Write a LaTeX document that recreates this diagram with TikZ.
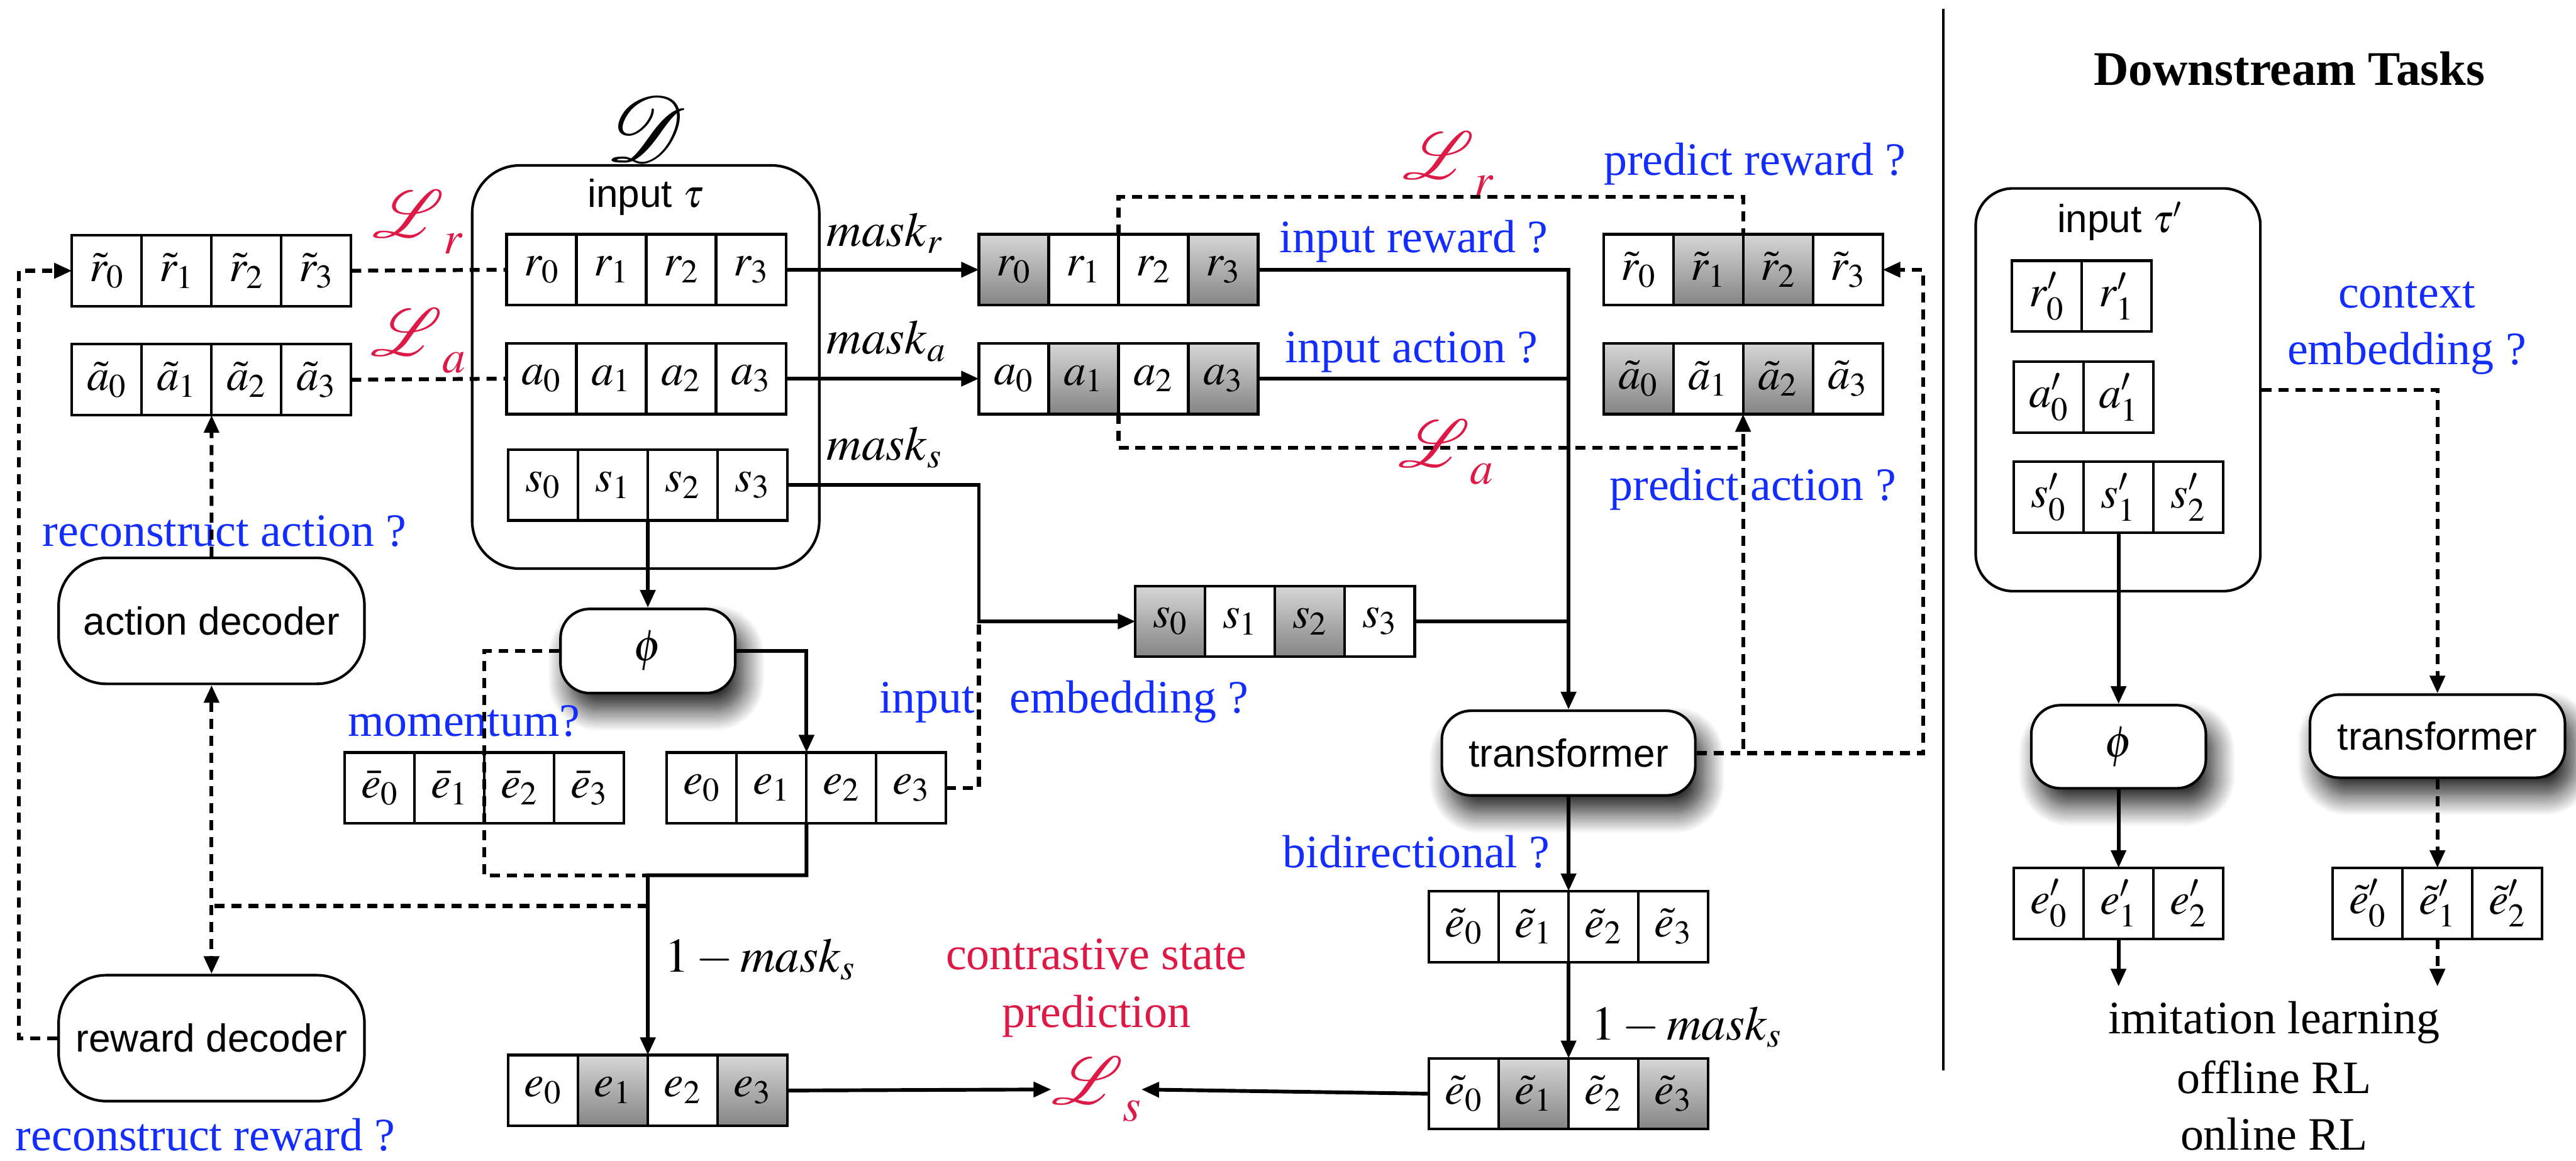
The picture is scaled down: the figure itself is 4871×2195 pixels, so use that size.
\documentclass[tikz,border=0pt]{standalone}
\usepackage{graphicx}
\usepackage{mathptmx}
\usepackage{mathrsfs}
\usepackage{fontspec}
\setmainfont{Liberation Serif}
\setsansfont{Liberation Sans}
\usetikzlibrary{arrows.meta,positioning,shadows.blur}

\definecolor{askblue}{RGB}{20,45,255}
\definecolor{lossred}{RGB}{222,25,70}

\newcommand{\cellfnt}{\fontsize{24}{28}\selectfont}
\newcommand{\boxfnt}{\sffamily\fontsize{21}{25}\selectfont}
\newcommand{\askfnt}{\fontsize{25}{30}\selectfont}
\newcommand{\lossfnt}{\fontsize{24.88}{30}\selectfont}
\newcommand{\maskfnt}{\fontsize{26}{30}\selectfont}
% big script L with a lowered index
\newcommand{\lossmark}[1]{\scalebox{1.45}{$\mathscr{L}$}\raisebox{-9pt}{$#1$}}

\begin{document}
\begin{tikzpicture}[
    x=0.01cm, y=-0.01cm,
    >={Triangle[length=9.5pt,width=8pt]},
    cell/.style={
        draw,
        line width=1.4pt,
        fill=white,
        minimum width=1.32cm,
        minimum height=1.34cm,
        inner sep=0pt,
        outer sep=0pt,
        font=\cellfnt
    },
    gcell/.style={cell, top color=black!16, bottom color=black!48},
    roundbox/.style={
        draw,
        line width=1.4pt,
        fill=white,
        rounded corners=0.55cm,
        font=\boxfnt
    },
    sroundbox/.style={
        roundbox,
        blur shadow={shadow xshift=0.16cm, shadow yshift=-0.32cm,
                     shadow blur radius=0.4cm, shadow blur steps=24,
                     shadow opacity=90}
    },
    wire/.style={line width=2pt},
    flow/.style={wire, ->},
    dflow/.style={line width=2.1pt, dash pattern=on 5.4pt off 3.7pt},
    ask/.style={text=askblue, font=\askfnt, inner sep=0pt},
    loss/.style={text=lossred, font=\lossfnt, inner sep=0pt},
    maskl/.style={font=\maskfnt, inner sep=0pt}
]
    \useasboundingbox (0,0) rectangle (4871,2195);

    % ---------------- pretraining ----------------
    \node[roundbox, minimum width=6.56cm, minimum height=7.62cm, rounded corners=0.9cm] (inbox) at (1221,694) {};
    \node[font=\boxfnt, anchor=base] (intitle) at (1221,392) {input $\tau$};
    \node[font=\lossfnt, inner sep=0pt] (dset) at (1222,244) {\scalebox{2}{$\mathscr{D}$}};

    \foreach \i in {0,...,3} {
        \node[cell] (r\i) at ({1024+132*\i},510) {$r_{\i}$};
        \node[cell] (a\i) at ({1024+132*\i},716) {$a_{\i}$};
        \node[cell] (s\i) at ({1027+132*\i},917) {$s_{\i}$};
        \node[cell] (rr\i) at ({202+132*\i},512) {$\tilde{r}_{\i}$};
        \node[cell] (ra\i) at ({202+132*\i},718) {$\tilde{a}_{\i}$};
        \node[cell] (eb\i) at ({718+132*\i},1490) {$\bar{e}_{\i}$};
        \node[cell] (e\i) at ({1327+132*\i},1490) {$e_{\i}$};
        \node[cell] (te\i) at ({2768+132*\i},1752) {$\tilde{e}_{\i}$};
    }
    \foreach \i/\st in {0/gcell,1/cell,2/cell,3/gcell}
        \node[\st] (mr\i) at ({1917+132*\i},510) {$r_{\i}$};
    \foreach \i/\st in {0/cell,1/gcell,2/cell,3/gcell} {
        \node[\st] (ma\i) at ({1917+132*\i},716) {$a_{\i}$};
        \node[\st] (me\i) at ({1027+132*\i},2062) {$e_{\i}$};
        \node[\st] (mte\i) at ({2768+132*\i},2068) {$\tilde{e}_{\i}$};
    }
    \foreach \i/\st in {0/gcell,1/cell,2/gcell,3/cell} {
        \node[\st] (ms\i) at ({2213+132*\i},1175) {$s_{\i}$};
        \node[\st] (pa\i) at ({3098+132*\i},716) {$\tilde{a}_{\i}$};
    }
    \foreach \i/\st in {0/cell,1/gcell,2/gcell,3/cell}
        \node[\st] (pr\i) at ({3098+132*\i},510) {$\tilde{r}_{\i}$};

    \node[roundbox, minimum width=5.78cm, minimum height=2.38cm, rounded corners=0.9cm] (actdec) at (400,1174) {action decoder};
    \node[roundbox, minimum width=5.78cm, minimum height=2.38cm, rounded corners=0.9cm] (rewdec) at (400,1963) {reward decoder};
    \node[sroundbox, minimum width=3.3cm, minimum height=1.59cm, font=\cellfnt] (phi) at (1225,1231) {$\phi$};
    \node[sroundbox, minimum width=4.79cm, minimum height=1.6cm] (trans) at (2966,1424) {transformer};

    % labels
    \node[loss] (Lrl) at (790,420) {\lossmark{r}};
    \node[loss] (Lal) at (791,645) {\lossmark{a}};
    \node[loss] (Lrt) at (2738,310) {\lossmark{r}};
    \node[loss] (Lam) at (2734,855) {\lossmark{a}};
    \node[loss] (Ls) at (2073,2060) {\lossmark{s}};
    \node[maskl, anchor=base west] (mskr) at (1563,465) {$\mathit{mask}_r$};
    \node[maskl, anchor=base west] (mska) at (1563,669) {$\mathit{mask}_a$};
    \node[maskl, anchor=base west] (msks) at (1563,870) {$\mathit{mask}_s$};
    \node[maskl, anchor=base west] (onems) at (1257,1838) {$1-\mathit{mask}_s$};
    \node[maskl, anchor=base west] (onemt) at (3009,1966) {$1-\mathit{mask}_s$};

    \node[ask, anchor=base west] (recact) at (80,1033) {reconstruct action ?};
    \node[ask, anchor=base west] (recrew) at (29,2176) {reconstruct reward ?};
    \node[ask, anchor=base west] (momq) at (657,1392) {momentum?};
    \node[ask, anchor=base west] (embq) at (1662,1348) {input\hspace{0.5em} embedding ?};
    \node[ask, anchor=base west] (inrq) at (2419,477) {input reward ?};
    \node[ask, anchor=base west] (inaq) at (2429,685) {input action ?};
    \node[ask, anchor=base west] (prq) at (3032,331) {predict reward ?};
    \node[ask, anchor=base west] (paq) at (3043,946) {predict action ?};
    \node[ask, anchor=base west] (bidq) at (2425,1641) {bidirectional ?};
    \node[ask, text=lossred, anchor=base] (csp1) at (2073,1833) {contrastive state};
    \node[ask, text=lossred, anchor=base] (csp2) at (2073,1943) {prediction};

    % flows
    \draw[flow] (r3.east) -- (mr0.west);
    \draw[flow] (a3.east) -- (ma0.west);
    \draw[flow] (s3.east) -- (s3.east -| mr0.west) |- (ms0.west);
    \draw[flow] (mr3.east) -| (trans.north);
    \draw[wire] (ma3.east) -- (ma3.east -| trans.north);
    \draw[wire] (ms3.east) -- (ms3.east -| trans.north);
    \draw[flow] (trans.south) -- (te1.north east);
    \draw[flow] (te1.south east) -- (mte1.north east);
    \draw[flow] (mte0.west) -- (Ls.east);
    \draw[flow] (me3.east) -- (Ls.west);

    \coordinate (mjoin) at (1225,1655);
    \coordinate (djoin) at (1225,1713);
    \draw[flow] (s1.south east) -- (phi.north);
    \draw[flow] (phi.east) -| (e1.north east);
    \draw[flow] (e1.south east) |- (mjoin) -- (me1.north east);
    \draw[dflow] (phi.west) -| (eb1.south east) |- (mjoin);
    \draw[dflow] (e3.east) -| (ms0.west -| mr0.west);

    % decoders
    \draw[dflow] (djoin) -- (djoin -| actdec.south);
    \draw[dflow, <->] (actdec.south) -- (rewdec.north);
    \draw[dflow, ->] (actdec.north) -- (ra1.south east);
    \draw[dflow, ->] (rewdec.west) -- ++(-73,0) |- (rr0.west);
    \draw[dflow] (rr3.east) -- (r0.west);
    \draw[dflow] (ra3.east) -- (a0.west);

    % prediction losses
    \draw[dflow] (mr1.north east) -- ++(0,-71) -| (pr1.north east);
    \draw[dflow] (ma1.south east) -- ++(0,64) -| (pa1.south east);
    \draw[dflow, ->] (trans.east) -| (pa1.south east);
    \draw[dflow, ->] (trans.east) -- ++(428,0) |- (pr3.east);

    % ---------------- downstream ----------------
    \draw[line width=1.3pt] (3675,17) -- (3675,2024);
    \node[font=\bfseries\fontsize{26}{30}\selectfont, anchor=base] (dtitle) at (4329,161) {Downstream Tasks};

    \node[roundbox, minimum width=5.38cm, minimum height=7.61cm, rounded corners=0.7cm] (dinput) at (4005,737) {};
    \node[font=\boxfnt, anchor=base] (dintitle) at (4008,439) {input $\tau'$};
    \foreach \i in {0,1} {
        \node[cell] (dr\i) at ({3870+132*\i},560) {$r'_{\i}$};
        \node[cell] (da\i) at ({3874+132*\i},751) {$a'_{\i}$};
    }
    \foreach \i in {0,1,2} {
        \node[cell] (ds\i) at ({3874+132*\i},940) {$s'_{\i}$};
        \node[cell] (de\i) at ({3874+132*\i},1708) {$e'_{\i}$};
        \node[cell] (dte\i) at ({4477+132*\i},1708) {$\tilde{e}'_{\i}$};
    }
    \node[sroundbox, minimum width=3.3cm, minimum height=1.57cm, font=\cellfnt] (dphi) at (4006,1412) {$\phi$};
    \node[sroundbox, minimum width=4.82cm, minimum height=1.57cm] (dtrans) at (4609,1392) {transformer};

    \node[ask, anchor=base] (ctx1) at (4551,582) {context};
    \node[ask, anchor=base] (ctx2) at (4551,689) {embedding ?};
    \node[ask, text=black, anchor=base] (task1) at (4300,1955) {imitation learning};
    \node[ask, text=black, anchor=base] (task2) at (4300,2067) {offline RL};
    \node[ask, text=black, anchor=base] (task3) at (4300,2175) {online RL};

    \draw[flow] (ds1.south) -- (dphi.north);
    \draw[flow] (dphi.south) -- (de1.north);
    \draw[flow] (de1.south) -- ([yshift=8pt]de1.south |- task1.north);
    \draw[dflow, ->] (dinput.east) -| (dtrans.north);
    \draw[dflow, ->] (dtrans.south) -- (dte1.north);
    \draw[dflow, ->] (dte1.south) -- ([yshift=8pt]dte1.south |- task1.north);
\end{tikzpicture}
\end{document}
